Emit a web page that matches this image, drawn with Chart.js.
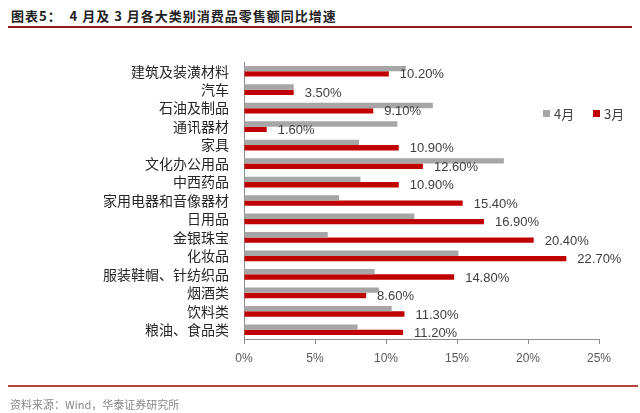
<!DOCTYPE html>
<html>
<head>
<meta charset="utf-8">
<script src="https://cdn.jsdelivr.net/npm/chart.js@4/dist/chart.umd.min.js"></script>
<style>
  body { margin: 0; background: #fff; }
  #wrap { position: relative; width: 640px; height: 413px; overflow: hidden; }
  #title { position: absolute; left: 11px; top: 6px; font: bold 13px "Noto Sans CJK SC", sans-serif; color: #222; letter-spacing: 1px; white-space: pre; }
  #topline { position: absolute; left: 8px; top: 26px; width: 624px; height: 2px; background: #8e1b1b; }
  #botline { position: absolute; left: 8px; top: 385px; width: 630px; height: 2px; background: #b3413c; }
  #source { position: absolute; left: 10px; top: 396px; font: 11px "Noto Sans CJK SC", sans-serif; color: #888; white-space: nowrap; }
  canvas { position: absolute; left: 0; top: 0; }
</style>
</head>
<body>
<div id="wrap">
  <div id="title">图表5：  4 月及 3 月各大类别消费品零售额同比增速</div>
  <div id="topline"></div>
  <canvas id="barChart" width="640" height="413"></canvas>
  <div id="botline"></div>
  <div id="source">资料来源：Wind，华泰证券研究所</div>
</div>
<script>
var categories = ['建筑及装潢材料', '汽车', '石油及制品', '通讯器材', '家具', '文化办公用品', '中西药品',
  '家用电器和音像器材', '日用品', '金银珠宝', '化妆品', '服装鞋帽、针纺织品', '烟酒类', '饮料类', '粮油、食品类'];
var april = [11.4, 3.5, 13.3, 10.8, 8.1, 18.3, 8.2, 6.7, 12.0, 5.9, 15.1, 9.2, 9.5, 10.4, 8.0];
var march = [10.2, 3.5, 9.1, 1.6, 10.9, 12.6, 10.9, 15.4, 16.9, 20.4, 22.7, 14.8, 8.6, 11.3, 11.2];
var xTicks = [0, 5, 10, 15, 20, 25];

var grey = '#a6a6a6';
var red = '#c00000';

// labels at the end of the March bars
var valueLabels = {
  id: 'valueLabels',
  afterDatasetsDraw: function (chart) {
    var ctx = chart.ctx;
    var meta = chart.getDatasetMeta(1);
    ctx.save();
    ctx.font = '13px "Liberation Sans", sans-serif';
    ctx.fillStyle = '#404040';
    ctx.textAlign = 'left';
    ctx.textBaseline = 'middle';
    meta.data.forEach(function (bar, i) {
      ctx.fillText(march[i].toFixed(2) + '%', bar.x + 11, bar.y + 1);
    });
    ctx.restore();
  }
};

// small legend on the right
var sideLegend = {
  id: 'sideLegend',
  afterDraw: function (chart) {
    var ctx = chart.ctx;
    var x = 543;
    ctx.save();
    ctx.font = '13px "Noto Sans CJK SC", sans-serif';
    ctx.textBaseline = 'middle';
    chart.data.datasets.forEach(function (ds) {
      ctx.fillStyle = ds.backgroundColor;
      ctx.fillRect(x, 110, 7, 7);
      ctx.fillStyle = '#404040';
      ctx.fillText(ds.label, x + 11, 114);
      x += 50;
    });
    ctx.restore();
  }
};

new Chart(document.getElementById('barChart').getContext('2d'), {
  type: 'bar',
  data: {
    labels: categories,
    datasets: [
      { label: '4月', data: april, backgroundColor: grey },
      { label: '3月', data: march, backgroundColor: red }
    ]
  },
  options: {
    indexAxis: 'y',
    responsive: false,
    animation: false,
    barPercentage: 1,
    categoryPercentage: 0.58,
    layout: { padding: { top: 62, right: 41, bottom: 44, left: 0 } },
    plugins: { legend: { display: false }, tooltip: { enabled: false } },
    scales: {
      x: {
        min: 0,
        max: 25,
        afterBuildTicks: function (scale) {
          scale.ticks = xTicks.map(function (v) { return { value: v }; });
        },
        afterFit: function (scale) { scale.height = 30; },
        grid: { drawOnChartArea: false, drawTicks: true, tickLength: 5, tickColor: '#8c8c8c' },
        border: { display: true, color: '#8c8c8c' },
        ticks: {
          padding: 7,
          color: '#595959',
          font: { family: '"Liberation Sans", sans-serif', size: 12 },
          callback: function (v) { return v + '%'; }
        }
      },
      y: {
        afterFit: function (scale) { scale.width = 244; },
        grid: { drawOnChartArea: false, drawTicks: false },
        border: { display: true, color: '#8c8c8c' },
        ticks: {
          padding: 15,
          color: '#262626',
          autoSkip: false,
          font: { family: '"Noto Sans CJK SC", sans-serif', size: 14 }
        }
      }
    }
  },
  plugins: [valueLabels, sideLegend]
});
</script>
</body>
</html>
